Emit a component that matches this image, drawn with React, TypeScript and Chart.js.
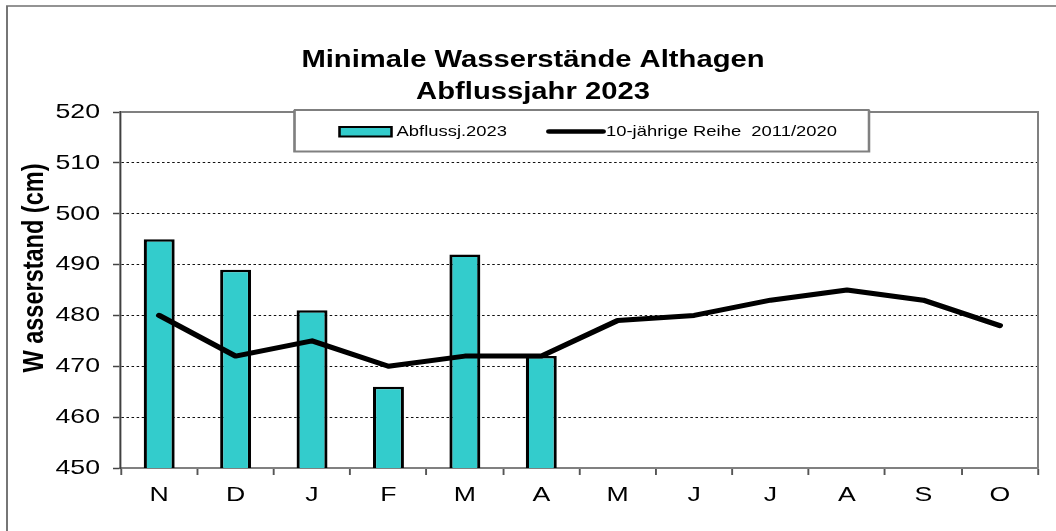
import React, { useEffect, useRef } from "react";
import { Chart, registerables } from "chart.js";

Chart.register(...registerables);

const months = ["N", "D", "J", "F", "M", "A", "M", "J", "J", "A", "S", "O"];
const abfluss2023 = [495, 489, 481, 466, 492, 472, null, null, null, null, null, null];
const reihe20112020 = [480, 472, 475, 470, 472, 472, 479, 480, 483, 485, 483, 478];
const yTicks = [450, 460, 470, 480, 490, 500, 510, 520];

const titleLines = ["Minimale Wasserstände Althagen", "Abflussjahr 2023"];
const yTitle = "W asserstand (cm)";
const barLabel = "Abflussj.2023";
const lineLabel = "10-jährige Reihe  2011/2020";

const W = 1056;
const H = 531;
const S = 1.27; // horizontal stretch of the reference
const FONT = "'Liberation Sans', Arial, sans-serif";
const BAR_COLOR = "#33CCCC";

const PLOT_LEFT = 121 / S;
const PLOT_RIGHT = 1038 / S;
const PLOT_TOP = 112;
const PLOT_BOTTOM = 468;

const stretchPlugin = {
  id: "stretchDecor",
  beforeDraw(chart: any) {
    const ctx = chart.ctx;
    ctx.save();
    ctx.scale(S, 1);
  },
  afterDatasetsDraw(chart: any) {
    const ctx = chart.ctx;
    const a = chart.chartArea;
    ctx.save();
    ctx.strokeStyle = "#808080";
    ctx.lineWidth = 2;
    ctx.beginPath();
    ctx.moveTo(a.left, a.top);
    ctx.lineTo(a.right, a.top);
    ctx.stroke();
    ctx.lineWidth = 2 / S;
    ctx.beginPath();
    ctx.moveTo(a.right, a.top - 1);
    ctx.lineTo(a.right, a.bottom);
    ctx.stroke();
    ctx.restore();
  },
  afterDraw(chart: any) {
    const ctx = chart.ctx;
    // outer frame
    ctx.save();
    ctx.strokeStyle = "#707070";
    ctx.lineWidth = 1.5;
    ctx.beginPath();
    ctx.moveTo(7 / S, H + 5);
    ctx.lineTo(7 / S, 6);
    ctx.lineTo(W + 10, 6);
    ctx.stroke();

    // title
    ctx.fillStyle = "#000";
    ctx.font = `bold 23px ${FONT}`;
    ctx.textAlign = "center";
    ctx.textBaseline = "alphabetic";
    ctx.fillText(titleLines[0], 533 / S, 67);
    ctx.fillText(titleLines[1], 533 / S, 99);

    // y axis title
    ctx.save();
    ctx.translate(35 / S, 268);
    ctx.rotate(-Math.PI / 2);
    ctx.textAlign = "center";
    ctx.textBaseline = "middle";
    ctx.font = `bold 23.5px ${FONT}`;
    ctx.fillText(yTitle, 0, 0);
    ctx.restore();

    // legend box
    const bx1 = 294.5 / S, bx2 = 869 / S, by1 = 110, by2 = 151.5;
    ctx.fillStyle = "#fff";
    ctx.fillRect(bx1, by1, bx2 - bx1, by2 - by1);
    ctx.strokeStyle = "#000";
    ctx.lineWidth = 1;
    ctx.strokeRect(bx1, by1, bx2 - bx1, by2 - by1);
    ctx.strokeStyle = "#808080";
    ctx.lineWidth = 2;
    ctx.beginPath();
    ctx.moveTo(bx1, by1);
    ctx.lineTo(bx1, by2);
    ctx.lineTo(bx2, by2);
    ctx.lineTo(bx2, by1);
    ctx.stroke();

    // bar swatch
    ctx.fillStyle = BAR_COLOR;
    ctx.fillRect(339.5 / S, 127, (391.5 - 339.5) / S, 9.5);
    ctx.strokeStyle = "#000";
    ctx.lineWidth = 2;
    ctx.strokeRect(339.5 / S, 127, (391.5 - 339.5) / S, 9.5);
    ctx.fillStyle = "#000";
    ctx.font = `14.5px ${FONT}`;
    ctx.textAlign = "left";
    ctx.textBaseline = "middle";
    ctx.fillText(barLabel, 396.5 / S, 132);

    // line swatch
    ctx.strokeStyle = "#000";
    ctx.lineWidth = 4.5;
    ctx.lineCap = "round";
    ctx.beginPath();
    ctx.moveTo(549 / S, 131.5);
    ctx.lineTo(603 / S, 131.5);
    ctx.stroke();
    ctx.fillText(lineLabel, 606 / S, 132);

    ctx.restore();
    // undo stretch
    ctx.restore();
  },
};

export default function App() {
  const ref = useRef<HTMLCanvasElement | null>(null);

  useEffect(() => {
    if (!ref.current) return;
    Chart.defaults.font.family = FONT;
    const chart = new Chart(ref.current, {
      type: "bar",
      data: {
        labels: months,
        datasets: [
          {
            type: "line",
            label: lineLabel,
            data: reihe20112020,
            borderColor: "#000",
            backgroundColor: "#000",
            borderWidth: 5,
            pointRadius: 0,
            tension: 0,
            order: 0,
            borderCapStyle: "round",
            borderJoinStyle: "round",
          } as any,
          {
            type: "bar",
            label: barLabel,
            data: abfluss2023,
            backgroundColor: BAR_COLOR,
            borderColor: "#000",
            borderWidth: 2.5,
            categoryPercentage: 1,
            barPercentage: 0.405,
            order: 1,
          } as any,
        ],
      },
      options: {
        animation: false,
        responsive: false,
        devicePixelRatio: 1,
        layout: {
          padding: { left: 0, top: PLOT_TOP, right: W - PLOT_RIGHT, bottom: 0 },
        },
        plugins: {
          legend: { display: false },
          title: { display: false },
          tooltip: { enabled: false },
        },
        scales: {
          x: {
            type: "category",
            offset: true,
            grid: {
              offset: true,
              drawOnChartArea: false,
              drawTicks: true,
              tickLength: 7,
              tickColor: "#555",
              tickWidth: 1.5,
            },
            border: { display: true, color: "#808080", width: 2 },
            ticks: {
              color: "#000",
              font: { size: 21, family: FONT },
              padding: 8,
              maxRotation: 0,
              autoSkip: false,
            },
            afterFit: (scale: any) => {
              scale.height = H - PLOT_BOTTOM;
            },
          },
          y: {
            type: "linear",
            min: 450,
            max: 520,
            afterBuildTicks: (scale: any) => {
              scale.ticks = yTicks.map((v) => ({ value: v }));
            },
            grid: {
              color: "#111",
              lineWidth: 1,
              drawTicks: true,
              tickLength: 8 / S,
              tickColor: "#444",
              tickWidth: 1.5,
            },
            border: { display: true, color: "#404040", width: 2 / S, dash: [2, 2] },
            ticks: {
              color: "#000",
              font: { size: 21, family: FONT },
              padding: 21 / S - 8 / S,
            },
            afterFit: (scale: any) => {
              scale.width = PLOT_LEFT;
            },
          },
        },
      } as any,
      plugins: [stretchPlugin],
    });
    return () => chart.destroy();
  }, []);

  return (
    <div style={{ position: "fixed", left: 0, top: 0, width: W, height: H, background: "#fff" }}>
      <canvas ref={ref} width={W} height={H} style={{ display: "block", width: W, height: H }} />
    </div>
  );
}
